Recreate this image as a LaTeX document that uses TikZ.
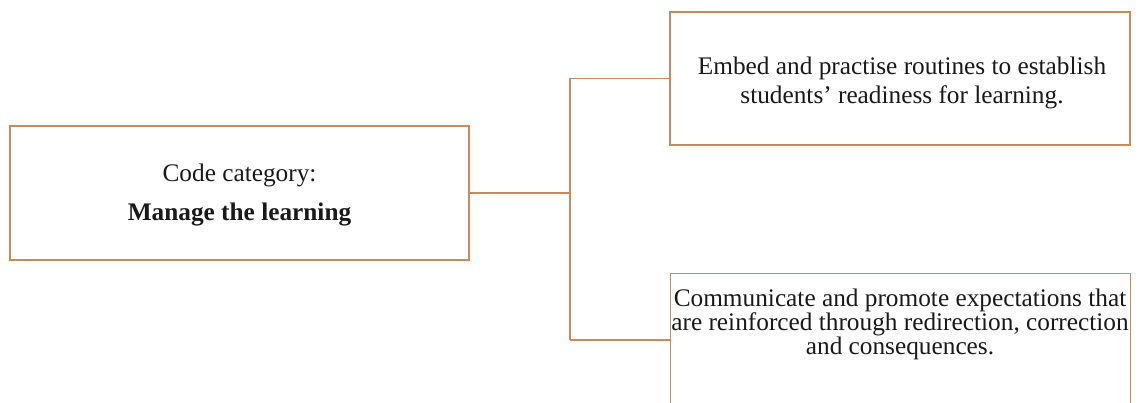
\documentclass[tikz,border=0pt]{standalone}
\usepackage{fontspec}
\setmainfont{Liberation Serif}
\definecolor{linkbrown}{RGB}{196,140,95}
\begin{document}
\begin{tikzpicture}[x=1pt,y=-1pt,
  box/.style={draw=linkbrown,line width=1.4pt,rectangle,inner sep=0pt},
  label/.style={align=center,text=black!90,inner sep=0pt},
  link/.style={draw=linkbrown,line width=1.4pt}]
\useasboundingbox (0,0) rectangle (1139,403);
\clip (0,0) rectangle (1139,403);
% category box
\node[box,minimum width=459pt,minimum height=134pt] (cat) at (239.5,193) {};
\node[label,font=\fontsize{25.3}{39}\selectfont] (cattext) at (239.5,195) {Code category:\\\textbf{Manage the learning}};
% first code
\node[box,minimum width=460pt,minimum height=133pt] (c1) at (900,78.5) {};
\node[label,font=\fontsize{25.3}{29.5}\selectfont] (c1text) at (902,83) {Embed and practise routines to establish\\students' readiness for learning.};
% second code, its lower edge runs past the page
\node[box,anchor=north west,minimum width=460pt,minimum height=160pt] (c2) at (670,273) {};
\node[label,font=\fontsize{25.3}{24}\selectfont] (c2text) at (900,324) {Communicate and promote expectations that\\are reinforced through redirection, correction\\and consequences.};
% connectors
\coordinate (fork) at (570,193);
\draw[link] (cat.east) -- (fork);
\draw[link] (fork |- c1.west) -- (c1.west);
\draw[link] (fork |- 0,340) coordinate (low) -- (low -| c2.west);
\draw[link] (fork |- c1.west) -- (low);
\end{tikzpicture}
\end{document}
